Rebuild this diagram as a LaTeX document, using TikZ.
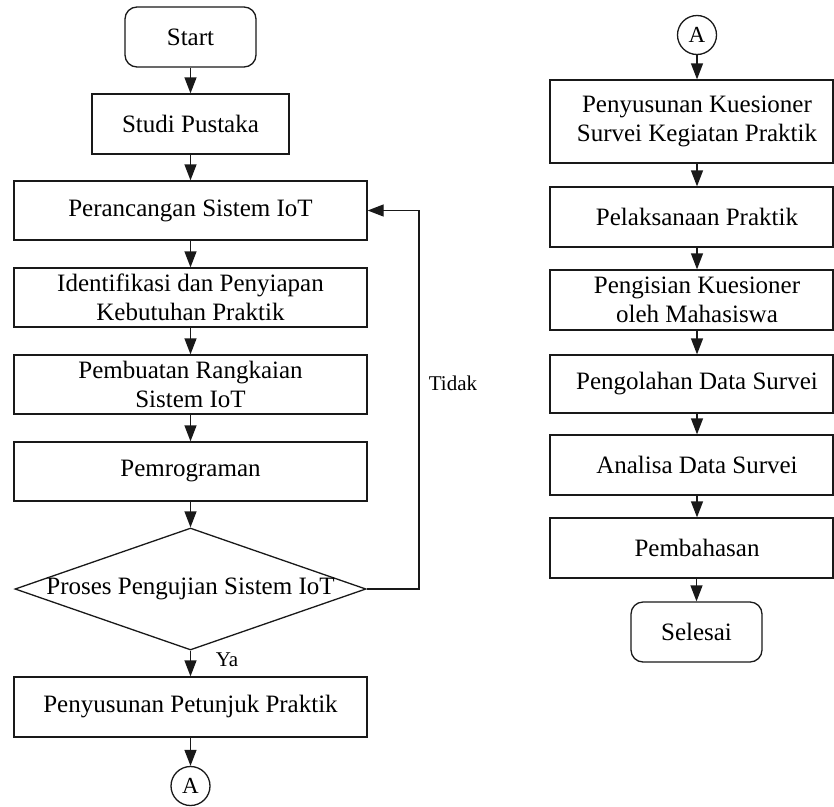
\documentclass[tikz,border=0pt]{standalone}
\usepackage{fontspec}
\setmainfont{Liberation Serif}
\usetikzlibrary{shapes.geometric,arrows.meta,calc}
\begin{document}
\begin{tikzpicture}[x=1pt,y=-1pt,
  txt/.style={font=\fontsize{25}{29}\selectfont},
  small/.style={font=\fontsize{21}{25}\selectfont},
  lbox/.style={txt,draw=black!90,line width=1.3pt,rectangle,minimum width=353pt,minimum height=59pt,inner sep=0pt,align=center},
  rbox/.style={draw=black!90,line width=1.3pt,rectangle,minimum width=283pt,minimum height=60pt,inner sep=0pt},
  rlbl/.style={txt,xshift=5.5pt,align=center,inner sep=0pt},
  term/.style={txt,draw=black!90,line width=1.3pt,rectangle,rounded corners=12pt,minimum width=131pt,minimum height=60pt,inner sep=0pt},
  conn/.style={font=\fontsize{23}{27}\selectfont,draw=black!90,line width=1.3pt,circle,minimum size=39pt,inner sep=0pt},
  dec/.style={draw=black!90,line width=1.3pt,diamond,minimum width=351pt,minimum height=122pt,inner sep=0pt},
  arr/.style={draw=black!90,line width=1.3pt,-{Triangle[length=16pt,width=12pt]}}
]
\useasboundingbox (0,0) rectangle (834,806);
% left column
\node[term] (start) at (190.5,37) {Start};
\node[lbox,minimum width=197pt,minimum height=60pt] (studi) at (190.5,124) {Studi Pustaka};
\node[lbox] (ranc) at (190.5,210.5) {Perancangan Sistem IoT};
\node[lbox] (iden) at (190.5,297.5) {Identifikasi dan Penyiapan\\Kebutuhan Praktik};
\node[lbox] (buat) at (190.5,384.5) {Pembuatan Rangkaian\\Sistem IoT};
\node[lbox] (prog) at (190.5,471.5) {Pemrograman};
\node[dec,label={[txt,inner sep=0pt]center:Proses Pengujian Sistem IoT}] (uji) at (190.5,589) {};
\node[lbox,minimum height=60pt] (petunjuk) at (190.5,707) {Penyusunan Petunjuk Praktik};
\node[conn] (a1) at (190.5,786) {A};
\coordinate (loop) at (419,0);
\node[small] (tidak) at (453,383) {Tidak};
\node[small] (ya) at (227,660) {Ya};

\draw[arr] (start) -- (studi);
\draw[arr] (studi) -- (ranc);
\draw[arr] (ranc) -- (iden);
\draw[arr] (iden) -- (buat);
\draw[arr] (buat) -- (prog);
\draw[arr] (prog) -- (uji);
\draw[arr] (uji) -- (petunjuk);
\draw[arr] (petunjuk) -- (a1);
\draw[arr] (uji.east) -- (uji.east -| loop) -- (ranc.east -| loop) -- (ranc.east);

% right column
\node[conn] (a2) at (697,35) {A};
\node[rbox,minimum height=83pt,label={[rlbl]center:{Penyusunan Kuesioner\\Survei Kegiatan Praktik}}] (k1) at (691.5,121.5) {};
\node[rbox,label={[rlbl]center:{Pelaksanaan Praktik}}] (k2) at (691.5,217) {};
\node[rbox,label={[rlbl]center:{Pengisian Kuesioner\\oleh Mahasiswa}}] (k3) at (691.5,300) {};
\node[rbox,minimum height=58pt,label={[rlbl]center:{Pengolahan Data Survei}}] (k4) at (691.5,384) {};
\node[rbox,label={[rlbl]center:{Analisa Data Survei}}] (k5) at (691.5,465) {};
\node[rbox,label={[rlbl]center:{Pembahasan}}] (k6) at (691.5,548) {};
\node[term] (selesai) at (696.5,632) {Selesai};

\draw[arr] (a2) -- (k1.north -| a2);
\draw[arr] (k1.south -| a2) -- (k2.north -| a2);
\draw[arr] (k2.south -| a2) -- (k3.north -| a2);
\draw[arr] (k3.south -| a2) -- (k4.north -| a2);
\draw[arr] (k4.south -| a2) -- (k5.north -| a2);
\draw[arr] (k5.south -| a2) -- (k6.north -| a2);
\draw[arr] (k6.south -| selesai) -- (selesai);
\end{tikzpicture}
\end{document}
